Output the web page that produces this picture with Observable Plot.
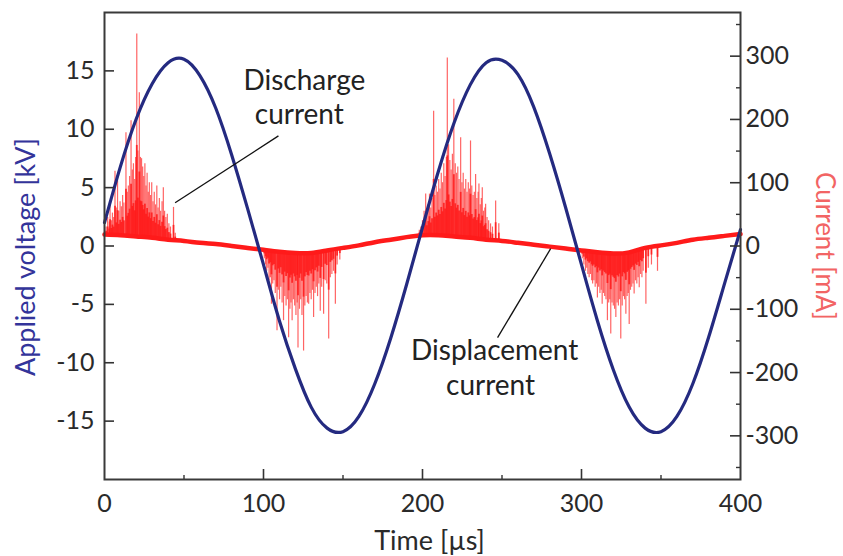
<!DOCTYPE html>
<html><head><meta charset="utf-8">
<script src="https://cdn.jsdelivr.net/npm/d3@7"></script>
<script src="https://cdn.jsdelivr.net/npm/@observablehq/plot@0.6"></script>
<style>body{margin:0;background:#fff}</style>
</head><body><div id="chart"></div>
<script>
// ---- data ----
const timeUs = [0,10,20,30,40,50,60,70,80,90,100,110,120,130,140,150,160,170,180,190,200,
  210,220,230,240,250,260,270,280,290,300,310,320,330,340,350,360,370,380,390,400];
const voltageKV = [2.0,6.8,10.9,13.9,15.7,16.0,14.6,11.8,7.8,3.2,-1.6,-6.4,-10.5,-13.8,-15.6,-15.9,-14.6,-11.8,-7.9,-3.3,1.6,
  6.4,10.6,13.8,15.7,15.9,14.7,11.9,7.9,3.3,-1.6,-6.4,-10.6,-13.8,-15.6,-15.9,-14.6,-11.8,-7.8,-3.2,1.4];
const displacementMA = [18,17,15,13,10,8,5,3,0,-3,-6,-9,-11,-11,-7,-3,1,6,10,14,17,
  17,15,13,10,8,5,2,-1,-4,-7,-10,-12,-10,-3,1,5,10,13,16,19];

// discharge spikes: [time µs, peak current mA]
const dischargePos1 = [[1,30],[2,45],[3,38],[3.5,71],[4.3,40],[5,52],[5.8,45],[6.6,118],[7.4,60],[8.2,103],[9,55],[9.8,70],
  [10.6,62],[11.4,80],[12.2,68],[13.5,179],[14.3,85],[15,95],[15.8,110],[16.7,198],[17.5,120],[18.2,130],[19,105],[19.6,140],
  [20.3,335],[21,150],[21.9,242],[22.6,140],[23.3,138],[24,125],[24.7,110],[25.4,130],[26.1,95],[26.8,115],[27.5,85],[28.2,100],
  [29,80],[29.7,100],[30.5,70],[31.3,85],[32.1,65],[32.9,95],[33.7,60],[34.5,75],[35.3,55],[36.2,70],[37,92],[37.8,55],
  [38.6,45],[39.5,50],[40.5,35],[41.5,30],[43.4,61],[44.5,20]];
const dischargeNeg1 = [[100.5,-20],[101.3,-30],[102,-40],[102.8,-35],[103.5,-55],[104.3,-50],[105,-92],[105.8,-60],[106.6,-55],
  [107.4,-75],[108.5,-134],[109.3,-70],[110.1,-85],[110.9,-65],[111.7,-90],[112.6,-118],[113.4,-80],[114.2,-95],[115,-85],
  [115.8,-145],[116.6,-100],[117.3,-90],[118,-118],[118.8,-85],[119.6,-95],[120.4,-110],[121.2,-90],[121.7,-161],[122.6,-100],
  [123.4,-85],[124.2,-110],[125.2,-166],[126,-95],[126.8,-80],[127.6,-90],[128.4,-92],[129.2,-75],[130,-85],[130.8,-70],
  [131.5,-113],[132.4,-75],[133.2,-65],[134,-80],[134.8,-60],[135.7,-103],[136.6,-65],[137.8,-108],[138.8,-55],[139.8,-60],
  [141,-147],[142,-50],[143,-45],[144,-40],[145.2,-92],[146.3,-30],[148,-22]];
const dischargePos2 = [[198,25],[199,30],[200,40],[201,55],[202,82],[202.8,50],[203.6,65],[204.4,82],[205.2,60],[206,75],
  [207,213],[207.8,80],[208.6,95],[209.4,85],[210.2,105],[211,90],[211.8,115],[212.6,100],[213.4,130],[214.2,110],[215,140],
  [215.6,297],[216.4,160],[217.2,135],[218,120],[218.8,145],[219.7,232],[220.6,130],[221.4,115],[222.2,125],[223,105],
  [224,171],[224.8,100],[225.6,115],[226.4,90],[227.2,105],[228,85],[228.8,100],[229.6,90],[230.2,166],[231,95],[231.8,80],
  [232.6,85],[233.4,113],[234.2,75],[235,85],[235.5,98],[236.3,65],[237,75],[237.6,92],[238.4,55],[239.2,60],[239.7,66],
  [240.6,45],[241.6,40],[242.8,35],[244,30],[246,71],[248,35]];
const dischargeNeg2 = [[300.5,-20],[301.5,-30],[302.5,-40],[303.3,-35],[304,-45],[304.8,-50],[305.6,-45],[306.4,-55],[307,-60],
  [307.8,-55],[308.6,-65],[309.4,-60],[310,-82],[310.8,-65],[311.6,-75],[312.4,-70],[313,-92],[313.8,-75],[314.6,-80],
  [315.4,-85],[316.3,-118],[317.1,-90],[317.8,-85],[318.4,-139],[319.2,-90],[320,-95],[320.8,-100],[321.6,-113],[322.4,-90],
  [323.2,-95],[324,-85],[324.7,-147],[325.6,-95],[326.4,-80],[327.1,-85],[327.9,-108],[328.7,-80],[329.4,-75],[330,-124],
  [330.8,-70],[331.6,-65],[332.4,-60],[333.1,-76],[334,-55],[334.8,-60],[335.6,-50],[336.3,-66],[337.2,-45],[338,-50],
  [338.8,-40],[340.5,-92],[342,-35],[344,-30],[347.8,-40]];

// ticks
const timeTicks = [0,100,200,300,400];
const timeMinorTicks = [50,150,250,350];
const voltageTicks = [-15,-10,-5,0,5,10,15];
const currentTicks = [-300,-200,-100,0,100,200,300];
const currentMinorTicks = [-350,-250,-150,-50,50,150,250,350];

// annotations
const annotationText = ["Discharge","current","Displacement","current"];
const annotationT = [125.7,122.5,245.4,242.8];
const annotationV = [14.1,11.2,-8.96,-12.0];
const leaderT1 = [109.4,247.2], leaderV1 = [9.43,-7.85];
const leaderT2 = [44.4,280.6], leaderV2 = [3.70,-0.23];

// ---- build ----
const voltageDomain = [-20,20];
const currentDomain = [-369,369];
const k = voltageDomain[1] / currentDomain[1]; // mA -> shared y units

const volt = timeUs.map((t,i) => ({t, v: voltageKV[i]}));
const disp = timeUs.map((t,i) => ({t, v: displacementMA[i]*k}));
const baselineAt = t => {
  const i = Math.min(timeUs.length-2, Math.floor(t/10));
  const f = (t - timeUs[i])/(timeUs[i+1]-timeUs[i]);
  return displacementMA[i]*(1-f) + displacementMA[i+1]*f;
};
const spikes = [...dischargePos1,...dischargeNeg1,...dischargePos2,...dischargeNeg2]
  .map(([t,mA]) => {
    const b = baselineAt(t);
    return {t, base: b*k, peak: mA*k, core: (b + 0.45*(mA - b))*k};
  });
const annotations = annotationText.map((s,i) => ({s, t: annotationT[i], v: annotationV[i]}));
const leaders = leaderT1.map((t,i) => ({x1: t, y1: leaderV1[i], x2: leaderT2[i], y2: leaderV2[i]}));

const W = 843, H = 556, ML = 104, MR = 103, MT = 12, MB = 77;
const FW = W - ML - MR, FH = H - MT - MB;
const fmt = d => String(d);

const chart = Plot.plot({
  width: W, height: H,
  marginLeft: ML, marginRight: MR, marginTop: MT, marginBottom: MB,
  x: {domain: [0,400]},
  y: {domain: voltageDomain},
  style: {fontFamily: "Lato, 'Open Sans', sans-serif", fontSize: "25px", color: "#2a2a2a", background: "#fff"},
  marks: [
    Plot.ruleX(spikes, {x: "t", y1: "base", y2: "peak", stroke: "#ff3030", strokeWidth: 1.2, strokeOpacity: 0.75}),
    Plot.ruleX(spikes, {x: "t", y1: "base", y2: "core", stroke: "#ff1a1a", strokeWidth: 1.8, strokeOpacity: 0.85}),
    Plot.line(disp, {x: "t", y: "v", stroke: "#ff1a1a", strokeWidth: 4.5, curve: "natural"}),
    Plot.line(volt, {x: "t", y: "v", stroke: "#242a80", strokeWidth: 3.2, curve: "natural"}),
    Plot.link(leaders, {x1: "x1", y1: "y1", x2: "x2", y2: "y2", stroke: "#111", strokeWidth: 1.3}),
    Plot.text(annotations, {x: "t", y: "v", text: "s", fontSize: 28, fill: "#222"}),
    Plot.frame({stroke: "#3a3a3a", strokeWidth: 2}),
    // inward ticks
    Plot.ruleX(timeTicks.slice(1,-1), {stroke: "#333", strokeWidth: 1.6, insetTop: FH - 10}),
    Plot.ruleX(timeMinorTicks, {stroke: "#333", strokeWidth: 1.4, insetTop: FH - 4}),
    Plot.ruleY(voltageTicks, {stroke: "#333", strokeWidth: 1.6, insetRight: FW - 10}),
    Plot.ruleY(currentTicks.map(c => c*k), {stroke: "#333", strokeWidth: 1.6, insetLeft: FW - 10}),
    Plot.ruleY(currentMinorTicks.map(c => c*k), {stroke: "#333", strokeWidth: 1.4, insetLeft: FW - 4}),
    // tick labels
    Plot.axisX({ticks: timeTicks, tickSize: 0, tickPadding: 15, tickFormat: fmt, label: null, fontSize: 25}),
    Plot.axisY({anchor: "left", ticks: voltageTicks, tickSize: 0, tickPadding: 10, tickFormat: fmt, label: null, fontSize: 25}),
    Plot.axisY({anchor: "right", ticks: currentTicks.map(c => c*k), tickSize: 0, tickPadding: 5,
      tickFormat: d => String(Math.round(d/k)), label: null, fontSize: 25}),
    // axis titles
    Plot.text(["Applied voltage [kV]"], {frameAnchor: "left", rotate: -90, dx: -78, dy: 11,
      textAnchor: "middle", lineAnchor: "middle", fontSize: 27, fill: "#33349a"}),
    Plot.text(["Current [mA]"], {frameAnchor: "right", rotate: 90, dx: 84, dy: 0,
      textAnchor: "middle", lineAnchor: "middle", fontSize: 26, fill: "#f26464"}),
    Plot.text(["Time [µs]"], {frameAnchor: "bottom", dx: 7, dy: 62,
      textAnchor: "middle", lineAnchor: "middle", fontSize: 27, fill: "#2a2a2a"})
  ]
});
document.getElementById("chart").appendChild(chart);
</script>
</body></html>
